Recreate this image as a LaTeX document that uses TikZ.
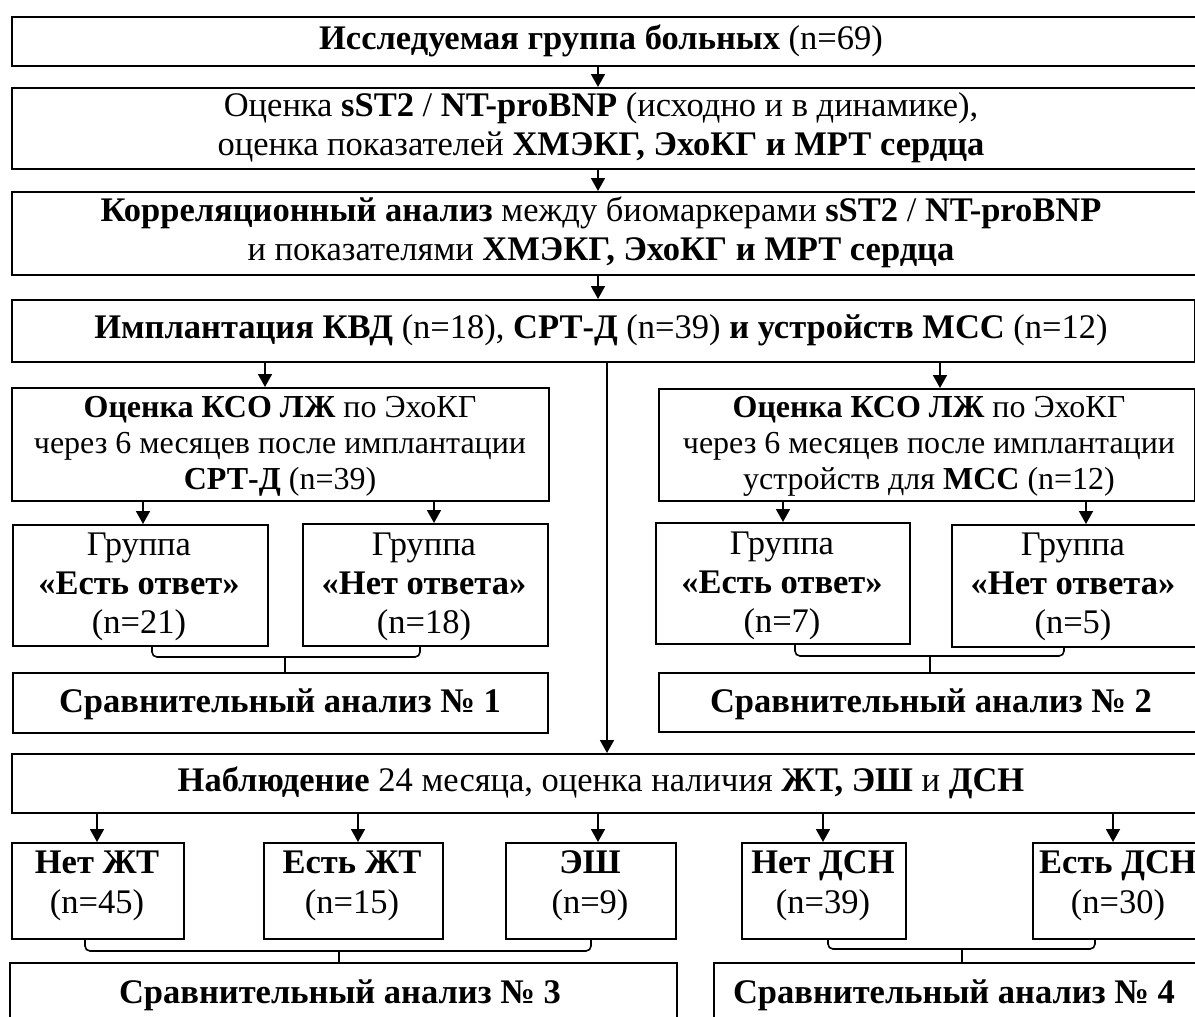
\documentclass[tikz,border=0pt]{standalone}
\usepackage{fontspec}
\setmainfont{Liberation Serif}
\usetikzlibrary{arrows.meta}
\begin{document}
\begin{tikzpicture}[x=1pt,y=-1pt,
  box/.style={draw, line width=1.9pt, anchor=north west, inner sep=0pt},
  txt/.style={align=center, inner sep=0pt, font=\fontsize{34.5}{39}\selectfont},
  txtsm/.style={align=center, inner sep=0pt, font=\fontsize{32}{36}\selectfont},
  txtb/.style={align=center, inner sep=0pt, font=\fontsize{34.5}{40}\selectfont},
  arr/.style={line width=1.8pt, -{Triangle[width=14pt,length=13pt]}},
  brace/.style={line width=1.6pt, rounded corners=5pt}]
\clip (0,0) rectangle (1195,1017);
\fill[white] (0,0) rectangle (1195,1017);
% main column boxes
\node[box, minimum width=1210pt, minimum height=49pt] (b1) at (11,16) {};
\node[box, minimum width=1210pt, minimum height=81pt] (b2) at (11,87) {};
\node[box, minimum width=1210pt, minimum height=83pt] (b3) at (11,191) {};
\node[box, minimum width=1183pt, minimum height=62pt] (b4) at (11,299) {};
\node[box, minimum width=537pt, minimum height=113pt] (b5) at (11,387) {};
\node[box, minimum width=536pt, minimum height=112pt] (b6) at (658,388) {};
\node[box, minimum width=255pt, minimum height=121pt] (g1) at (12,524) {};
\node[box, minimum width=245pt, minimum height=122pt] (g2) at (302,523) {};
\node[box, minimum width=254pt, minimum height=121pt] (g3) at (655,522) {};
\node[box, minimum width=260pt, minimum height=122pt] (g4) at (951,524) {};
\node[box, minimum width=535pt, minimum height=60pt] (c1) at (12,672) {};
\node[box, minimum width=560pt, minimum height=59pt] (c2) at (658,672) {};
\node[box, minimum width=1210pt, minimum height=59pt] (ob) at (11,753) {};
\node[box, minimum width=172pt, minimum height=96pt] (d1) at (11,842) {};
\node[box, minimum width=179pt, minimum height=96pt] (d2) at (263,842) {};
\node[box, minimum width=170pt, minimum height=96pt] (d3) at (505,842) {};
\node[box, minimum width=164pt, minimum height=96pt] (d4) at (741,842) {};
\node[box, minimum width=182pt, minimum height=96pt] (d5) at (1032,842) {};
\node[box, minimum width=667pt, minimum height=62pt] (c3) at (9,962) {};
\node[box, minimum width=500pt, minimum height=62pt] (c4) at (713,962) {};
% texts
\node[txt] (t1) at (601,41) {\textbf{Исследуемая группа больных} (n=69)};
\node[txt] (t2) at (601,128) {Оценка \textbf{sST2} / \textbf{NT-proBNP} (исходно и в динамике),\\оценка показателей \textbf{ХМЭКГ, ЭхоКГ и МРТ сердца}};
\node[txt] (t3) at (601,232) {\textbf{Корреляционный анализ} между биомаркерами \textbf{sST2} / \textbf{NT-proBNP}\\и показателями \textbf{ХМЭКГ, ЭхоКГ и МРТ сердца}};
\node[txt] (t4) at (601,330) {\textbf{Имплантация КВД} (n=18), \textbf{СРТ-Д} (n=39) \textbf{и устройств МСС} (n=12)};
\node[txtsm] (t5) at (280,446) {\textbf{Оценка КСО ЛЖ} по ЭхоКГ\\через 6 месяцев после имплантации\\\textbf{СРТ-Д} (n=39)};
\node[txtsm] (t6) at (929,446) {\textbf{Оценка КСО ЛЖ} по ЭхоКГ\\через 6 месяцев после имплантации\\устройств для \textbf{МСС} (n=12)};
\node[txt] (tg1) at (139,587) {Группа\\\textbf{«Есть ответ»}\\(n=21)};
\node[txt] (tg2) at (424,587) {Группа\\\textbf{«Нет ответа»}\\(n=18)};
\node[txt] (tg3) at (782,586) {Группа\\\textbf{«Есть ответ»}\\(n=7)};
\node[txt] (tg4) at (1073,587) {Группа\\\textbf{«Нет ответа»}\\(n=5)};
\node[txt] (tc1) at (280,704) {\textbf{Сравнительный анализ № 1}};
\node[txt] (tc2) at (931,704) {\textbf{Сравнительный анализ № 2}};
\node[txt] (tob) at (601,783) {\textbf{Наблюдение} 24 месяца, оценка наличия \textbf{ЖТ, ЭШ} и \textbf{ДСН}};
\node[txtb] (td1) at (97,886) {\textbf{Нет ЖТ}\\(n=45)};
\node[txtb] (td2) at (352,886) {\textbf{Есть ЖТ}\\(n=15)};
\node[txtb] (td3) at (590,886) {\textbf{ЭШ}\\(n=9)};
\node[txtb] (td4) at (823,886) {\textbf{Нет ДСН}\\(n=39)};
\node[txtb] (td5) at (1118,886) {\textbf{Есть ДСН}\\(n=30)};
\node[txt] (tc3) at (340,995) {\textbf{Сравнительный анализ № 3}};
\node[txt] (tc4) at (954,995) {\textbf{Сравнительный анализ № 4}};
% arrow x positions
\coordinate (x598) at (598,0);
\coordinate (x265) at (265,0);
\coordinate (x940) at (940,0);
\coordinate (x607) at (607,0);
\coordinate (x143) at (143,0);
\coordinate (x434) at (434,0);
\coordinate (x783) at (783,0);
\coordinate (x1086) at (1086,0);
\coordinate (x97) at (97,0);
\coordinate (x358) at (358,0);
\coordinate (x823) at (823,0);
\coordinate (x1113) at (1113,0);
% arrows
\draw[arr] (b1.south -| x598) -- (b2.north -| x598);
\draw[arr] (b2.south -| x598) -- (b3.north -| x598);
\draw[arr] (b3.south -| x598) -- (b4.north -| x598);
\draw[arr] (b4.south -| x265) -- (b5.north -| x265);
\draw[arr] (b4.south -| x940) -- (b6.north -| x940);
\draw[arr] (b4.south -| x607) -- (ob.north -| x607);
\draw[arr] (b5.south -| x143) -- (g1.north -| x143);
\draw[arr] (b5.south -| x434) -- (g2.north -| x434);
\draw[arr] (b6.south -| x783) -- (g3.north -| x783);
\draw[arr] (b6.south -| x1086) -- (g4.north -| x1086);
\draw[arr] (ob.south -| x97) -- (d1.north -| x97);
\draw[arr] (ob.south -| x358) -- (d2.north -| x358);
\draw[arr] (ob.south -| x598) -- (d3.north -| x598);
\draw[arr] (ob.south -| x823) -- (d4.north -| x823);
\draw[arr] (ob.south -| x1113) -- (d5.north -| x1113);
% braces
\coordinate (L1) at (152,0); \coordinate (R1) at (420,0); \coordinate (m1) at (285,657);
\coordinate (L2) at (795,0); \coordinate (R2) at (1064,0); \coordinate (m2) at (930,656);
\coordinate (L3) at (85,0); \coordinate (R3) at (591,0); \coordinate (m3) at (339,951);
\coordinate (L4) at (828,0); \coordinate (R4) at (1095,0); \coordinate (m4) at (962,949);
\draw[brace] (g1.south -| L1) |- (m1) -| (g2.south -| R1);
\draw[line width=1.6pt] (m1) -- (c1.north -| m1);
\draw[brace] (g3.south -| L2) |- (m2) -| (g4.south -| R2);
\draw[line width=1.6pt] (m2) -- (c2.north -| m2);
\draw[brace] (d1.south -| L3) |- (m3) -| (d3.south -| R3);
\draw[line width=1.6pt] (m3) -- (c3.north -| m3);
\draw[brace] (d4.south -| L4) |- (m4) -| (d5.south -| R4);
\draw[line width=1.6pt] (m4) -- (c4.north -| m4);
\end{tikzpicture}
\end{document}
